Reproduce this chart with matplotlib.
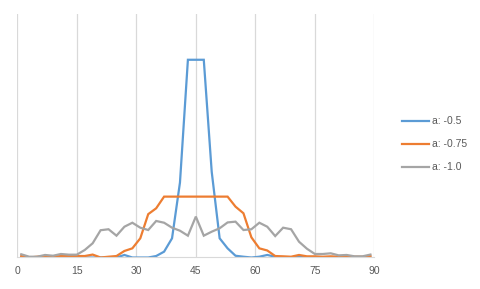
import matplotlib
matplotlib.use("Agg")
import matplotlib.pyplot as plt

plt.rcParams.update({"font.family": ["Liberation Sans", "DejaVu Sans"]})

x = list(range(1, 90, 2))
a_05 = [0, 0, 0, 0, 0, 0, 0, 0, 0, 0, 0, 0, 0, 0.0026, 0, 0, 0, 0.0015, 0.006, 0.0197, 0.077,
        0.203, 0.203, 0.203, 0.088, 0.0197, 0.0094, 0.0018, 0.0008, 0, 0.0008, 0.0026, 0.0008,
        0, 0, 0.0012, 0, 0, 0, 0, 0, 0, 0, 0, 0]
a_075 = [0.0015, 0, 0.0008, 0.0015, 0.0008, 0.0015, 0.0015, 0.0015, 0.0015, 0.0030, 0, 0.0008,
         0.0015, 0.0067, 0.0094, 0.0197, 0.0445, 0.0505, 0.0625, 0.0625, 0.0625, 0.0625,
         0.0625, 0.0625, 0.0625, 0.0625, 0.0625, 0.0522, 0.0454, 0.0207, 0.0094, 0.0072,
         0.0015, 0.0012, 0.0008, 0.0026, 0.0012, 0.0012, 0.0008, 0.0012, 0.0008, 0.0012,
         0.0008, 0.0008, 0.0015]
a_10 = [0.0033, 0.0008, 0.0008, 0.0026, 0.0018, 0.0036, 0.0029, 0.0029, 0.0077, 0.0146,
        0.028, 0.029, 0.0224, 0.0316, 0.0357, 0.0306, 0.0282, 0.0375, 0.0357, 0.0306, 0.0275,
        0.0224, 0.042, 0.0224, 0.0265, 0.030, 0.036, 0.0368, 0.0282, 0.029, 0.0357, 0.0316,
        0.022, 0.0306, 0.029, 0.0162, 0.009, 0.0036, 0.0036, 0.0043, 0.0022, 0.0026, 0.0012,
        0.0012, 0.003]
labels = ["a: -0.5", "a: -0.75", "a: -1.0"]
colors = ["#5B9BD5", "#ED7D31", "#A5A5A5"]

fig = plt.figure(figsize=(4.8, 2.89), dpi=100)
ax = fig.add_axes([0.036, 0.109, 0.744, 0.8426])
for ys, lab, c in zip([a_05, a_075, a_10], labels, colors):
    ax.plot(x, ys, color=c, lw=1.6, label=lab, solid_joinstyle="miter")
ax.set_xlim(0, 90)
ax.set_ylim(0, 0.25)
ax.set_xticks(range(0, 91, 15))
ax.set_yticks([])
ax.grid(axis="x", color="#D9D9D9", lw=0.9)
for s in ["top", "right", "left"]:
    ax.spines[s].set_visible(False)
ax.spines["bottom"].set_color("#D9D9D9")
ax.tick_params(axis="x", length=0, labelsize=7.5, labelcolor="#595959", pad=6)
ax.legend(loc="center left", bbox_to_anchor=(1.051, 0.465), frameon=False, fontsize=7.5,
          labelcolor="#595959", handlelength=2.6, handletextpad=0.3, labelspacing=1.25)
fig.savefig("out.png", dpi=100)
